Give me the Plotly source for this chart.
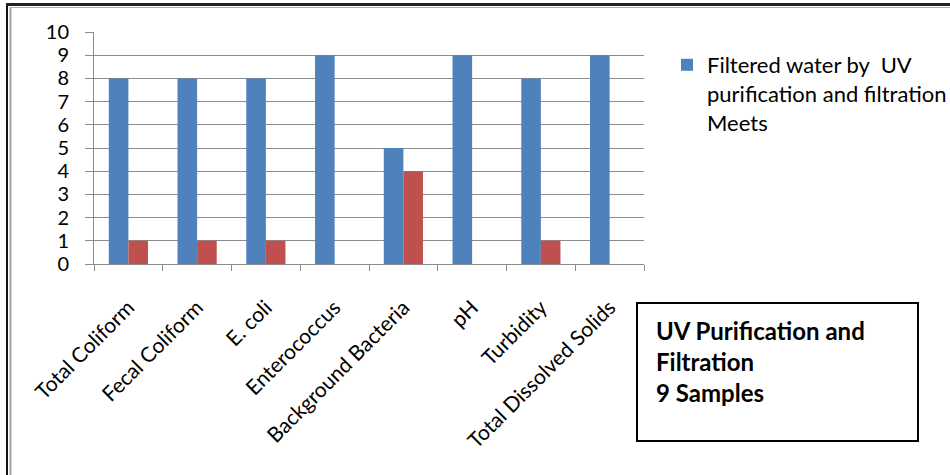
import plotly.graph_objects as go

categories = ["Total Coliform", "Fecal Coliform", "E. coli", "Enterococcus",
              "Background Bacteria", "pH", "Turbidity", "Total Dissolved Solids"]
meets = [8, 8, 8, 9, 5, 9, 8, 9]
fails = [1, 1, 1, 0, 4, 0, 1, 0]
legend_name = "Filtered water by  UV<br>purification and filtration<br>Meets"
box_lines = ["UV Purification and", "Filtration", "9 Samples"]
y_ticks = list(range(0, 11))

W, H = 950, 475
L, R, T, B = 94, 306, 32, 211
PW, PH = W - L - R, H - T - B


def px(x):
    return (x - L) / PW


def py(y):
    return (H - B - y) / PH


FONT = "Lato"
BLUE = "#4F81BD"
RED = "#C0504D"
GRID = "#8C8C8C"

fig = go.Figure()
fig.add_trace(go.Bar(x=categories, y=meets, marker_color=BLUE, marker_line_width=0,
                     name=legend_name, showlegend=True))
fig.add_trace(go.Bar(x=categories, y=fails, marker_color=RED, marker_line_width=0,
                     name="Does not meet", showlegend=False))

fig.update_layout(
    width=W, height=H,
    margin=dict(l=L, r=R, t=T, b=B, autoexpand=False),
    paper_bgcolor="white", plot_bgcolor="white",
    barmode="group", bargap=0.43, bargroupgap=0,
    font=dict(family=FONT, size=18, color="black"),
    showlegend=True,
    legend=dict(x=px(667), y=py(44), xanchor="left", yanchor="top", valign="top",
                bgcolor="rgba(0,0,0,0)", borderwidth=0,
                font=dict(family=FONT, size=22, color="black")),
)
fig.update_yaxes(range=[0, 10], tickvals=y_ticks, showgrid=True, gridcolor=GRID, gridwidth=1,
                 showline=True, linecolor=GRID, linewidth=1, ticks="outside", ticklen=8,
                 tickcolor=GRID, ticklabelstandoff=12, zeroline=False,
                 tickfont=dict(family=FONT, size=20, color="black"))
fig.update_xaxes(showline=True, linecolor=GRID, linewidth=1, ticks="outside", ticklen=6,
                 tickcolor=GRID, tickson="boundaries", tickangle=-45, ticklabelstandoff=22,
                 tickfont=dict(family=FONT, size=21, color="black"))

shapes = []
# text box
shapes.append(dict(type="rect", xref="paper", yref="paper",
                   x0=px(637), x1=px(918), y0=py(441), y1=py(303),
                   fillcolor="rgba(0,0,0,0)", line=dict(color="black", width=2)))
# outer frame (left and top)
shapes.append(dict(type="line", xref="paper", yref="paper",
                   x0=px(7), x1=px(7), y0=py(475), y1=py(4), line=dict(color="#111111", width=2)))
shapes.append(dict(type="line", xref="paper", yref="paper",
                   x0=px(10.5), x1=px(10.5), y0=py(475), y1=py(7), line=dict(color="#A0A0A0", width=2)))
shapes.append(dict(type="line", xref="paper", yref="paper",
                   x0=px(6), x1=px(950), y0=py(4.5), y1=py(4.5), line=dict(color="#222222", width=3)))
shapes.append(dict(type="line", xref="paper", yref="paper",
                   x0=px(10), x1=px(950), y0=py(7.5), y1=py(7.5), line=dict(color="#B0B0B0", width=1)))
fig.update_layout(shapes=shapes)

annots = []
for t, yc in zip(box_lines, [330, 361, 393]):
    annots.append(dict(text="<b>" + t + "</b>", xref="paper", yref="paper", x=px(654), y=py(yc),
                       xanchor="left", yanchor="middle", showarrow=False,
                       font=dict(family=FONT, size=24, color="black")))
fig.update_layout(annotations=annots)

fig.write_html("out.html", config={"displayModeBar": False},
               post_script="document.body.style.margin='0';")
